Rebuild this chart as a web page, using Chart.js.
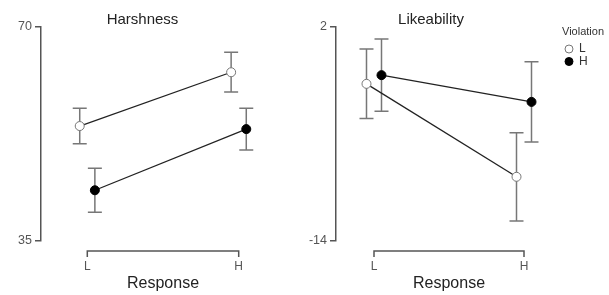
<!DOCTYPE html>
<html>
<head>
<meta charset="utf-8">
<script src="https://cdn.jsdelivr.net/npm/chart.js@4.4.1/dist/chart.umd.min.js"></script>
<style>
  html, body { margin: 0; padding: 0; background: #fff; }
  body { position: relative; width: 609px; height: 295px; overflow: hidden; }
  canvas { position: absolute; top: 0; }
  #harshChart { left: 0; }
  #likeChart { left: 265px; }
</style>
</head>
<body>
<canvas id="harshChart" width="313" height="295"></canvas>
<canvas id="likeChart" width="344" height="295"></canvas>
<script>
// Categories
const responseLevels = ['L', 'H'];
const violationLevels = ['L', 'H'];

// Harshness panel
const harshTicks = [35, 70];
const harshViolL = [53.8, 62.6];
const harshViolLErr = [2.9, 3.25];
const harshViolH = [43.3, 53.3];
const harshViolHErr = [3.6, 3.4];

// Likeability panel
const likeTicks = [-14, 2];
const likeViolL = [-2.25, -9.2];
const likeViolLErr = [2.6, 3.3];
const likeViolH = [-1.6, -3.6];
const likeViolHErr = [2.7, 3.0];

Chart.defaults.font.family = "'Liberation Sans', Arial, sans-serif";

const DODGE = 0.05;
const AXIS_COLOR = '#555';

// error bars drawn behind the points
const errorBars = {
  id: 'errorBars',
  beforeDatasetsDraw(chart) {
    const ctx = chart.ctx;
    const y = chart.scales.y;
    chart.data.datasets.forEach((ds, di) => {
      const meta = chart.getDatasetMeta(di);
      meta.data.forEach((pt, i) => {
        const v = ds.data[i].y;
        const e = ds.errors[i];
        const top = y.getPixelForValue(v + e);
        const bot = y.getPixelForValue(v - e);
        ctx.save();
        ctx.strokeStyle = '#777';
        ctx.lineWidth = 1.5;
        ctx.beginPath();
        ctx.moveTo(pt.x, top); ctx.lineTo(pt.x, bot);
        ctx.moveTo(pt.x - 7, top); ctx.lineTo(pt.x + 7, top);
        ctx.moveTo(pt.x - 7, bot); ctx.lineTo(pt.x + 7, bot);
        ctx.stroke();
        ctx.restore();
      });
    });
  }
};

// bracket-style x axis between first and last category
const bracketAxis = {
  id: 'bracketAxis',
  afterDraw(chart) {
    const ctx = chart.ctx;
    const x = chart.scales.x;
    const x0 = x.getPixelForValue(0);
    const x1 = x.getPixelForValue(responseLevels.length - 1);
    const yy = chart.chartArea.bottom + 10;
    ctx.save();
    ctx.strokeStyle = AXIS_COLOR;
    ctx.lineWidth = 1.5;
    ctx.beginPath();
    ctx.moveTo(x0, yy + 6); ctx.lineTo(x0, yy);
    ctx.lineTo(x1, yy); ctx.lineTo(x1, yy + 6);
    ctx.stroke();
    ctx.restore();
  }
};

// "Violation" legend on the right panel
const violationLegend = {
  id: 'violationLegend',
  afterDraw(chart) {
    const ctx = chart.ctx;
    const lx = 304, ly = 49, step = 12.5;
    ctx.save();
    ctx.fillStyle = '#333';
    ctx.font = "11px 'Liberation Sans', Arial, sans-serif";
    ctx.textBaseline = 'middle';
    ctx.fillText('Violation', 297, 32);
    chart.data.datasets.forEach((ds, i) => {
      ctx.fillStyle = ds.pointBackgroundColor;
      ctx.strokeStyle = ds.pointBorderColor;
      ctx.lineWidth = 1;
      ctx.beginPath();
      ctx.arc(lx, ly + i * step, 4, 0, Math.PI * 2);
      ctx.fill();
      ctx.stroke();
      ctx.fillStyle = '#333';
      ctx.font = "12px 'Liberation Sans', Arial, sans-serif";
      ctx.fillText(violationLevels[i], lx + 10, ly + i * step);
    });
    ctx.restore();
  }
};

function makeSeries(values, errors, offset, filled) {
  return {
    label: filled ? 'H' : 'L',
    data: values.map((v, i) => ({ x: i + offset, y: v })),
    errors: errors,
    borderColor: '#222',
    borderWidth: 1.3,
    pointRadius: 4.5,
    pointBorderWidth: 1,
    pointBackgroundColor: filled ? '#000' : '#fff',
    pointBorderColor: filled ? '#000' : '#777',
    tension: 0
  };
}

function makePanel(id, title, ticks, lowVals, lowErr, highVals, highErr, cfg, extraPlugins) {
  return new Chart(document.getElementById(id), {
    type: 'line',
    data: {
      datasets: [
        makeSeries(lowVals, lowErr, -DODGE, false),
        makeSeries(highVals, highErr, DODGE, true)
      ]
    },
    options: {
      responsive: false,
      animation: false,
      layout: { padding: { left: cfg.padLeft, right: cfg.padRight, top: 0, bottom: 0 } },
      plugins: {
        legend: { display: false },
        tooltip: { enabled: false },
        title: {
          display: true,
          text: title,
          color: '#222',
          font: { size: 15, weight: 'normal', lineHeight: 1 },
          padding: { top: 12, bottom: 0 }
        }
      },
      scales: {
        x: {
          type: 'linear',
          min: cfg.xMin,
          max: cfg.xMax,
          afterBuildTicks: s => { s.ticks = responseLevels.map((_, i) => ({ value: i })); },
          afterFit: s => { s.height = 54; },
          grid: { display: false, drawTicks: false },
          border: { display: false },
          ticks: { color: '#555', font: { size: 12 }, padding: 18, callback: v => responseLevels[v] },
          title: {
            display: true,
            text: 'Response',
            color: '#222',
            font: { size: 16 },
            padding: { top: 0, bottom: 2 }
          }
        },
        y: {
          min: ticks[0],
          max: ticks[1],
          afterBuildTicks: s => { s.ticks = ticks.map(v => ({ value: v })); },
          afterFit: s => { s.width = cfg.yWidth; },
          grid: { display: true, drawOnChartArea: false, drawTicks: true, tickLength: 6, color: AXIS_COLOR, lineWidth: 1.5 },
          border: { display: true, color: AXIS_COLOR, width: 1.5 },
          ticks: { color: '#555', font: { size: 12.5 }, padding: 3 }
        }
      }
    },
    plugins: [errorBars, bracketAxis].concat(extraPlugins || [])
  });
}

makePanel('harshChart', 'Harshness', harshTicks,
  harshViolL, harshViolLErr, harshViolH, harshViolHErr,
  { padLeft: 0, padRight: 28, yWidth: 41, xMin: -0.3058, xMax: 1.3058 });

makePanel('likeChart', 'Likeability', likeTicks,
  likeViolL, likeViolLErr, likeViolH, likeViolHErr,
  { padLeft: 35, padRight: 47, yWidth: 36, xMin: -0.2533, xMax: 1.2533 },
  [violationLegend]);
</script>
</body>
</html>
